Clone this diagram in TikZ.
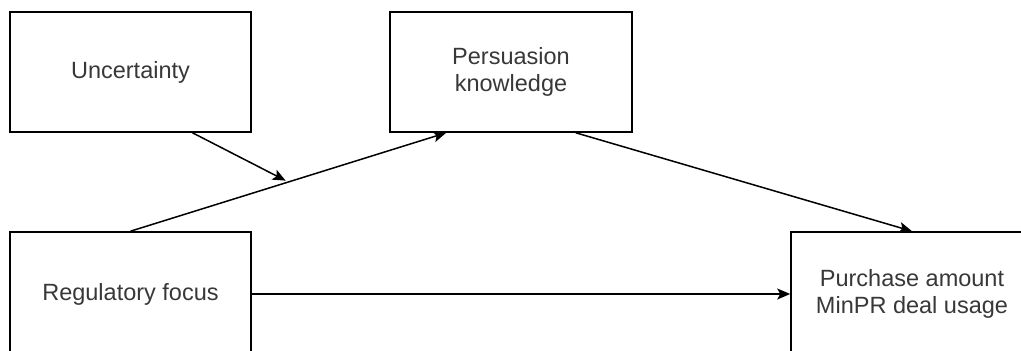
\documentclass[tikz,border=0pt]{standalone}
\usepackage{fontspec}
\setmainfont{Liberation Sans}
\usetikzlibrary{arrows.meta,calc}
\begin{document}
\begin{tikzpicture}[x=1pt,y=-1pt,
  box/.style={draw=black,line width=1.6pt,fill=white,rectangle,inner sep=0pt,
    align=center,text=black!78,font=\fontsize{23.5}{27.5}\selectfont},
  conn/.style={draw=black,line width=1.5pt,-{Stealth[length=13pt,width=11pt,inset=3pt]}}]
\path[use as bounding box,clip] (0,0) rectangle (1021,351);
\node[box,minimum width=241pt,minimum height=120pt] (unc) at (130.5,72) {Uncertainty};
\node[box,minimum width=242pt,minimum height=120pt] (pk) at (511,72) {Persuasion\\knowledge};
\node[box,minimum width=241pt,minimum height=124pt] (rf) at (130.5,294) {Regulatory focus};
\node[box,minimum width=242pt,minimum height=124pt] (pa) at (912,294) {Purchase amount\\MinPR deal usage};
\coordinate (pkin) at ([xshift=57pt]pk.south west);
\coordinate (pkout) at ([xshift=-57pt]pk.south east);
\coordinate (uncout) at ([xshift=62pt]unc.south);
\coordinate (mid) at ($(rf.north)!0.5!(pkin)$);
\draw[conn] (rf.north) -- (pkin);
\draw[conn,shorten >=3pt] (uncout) -- (mid);
\draw[conn] (pkout) -- (pa.north);
\draw[conn] (rf.east) -- (pa.west);
\end{tikzpicture}
\end{document}
